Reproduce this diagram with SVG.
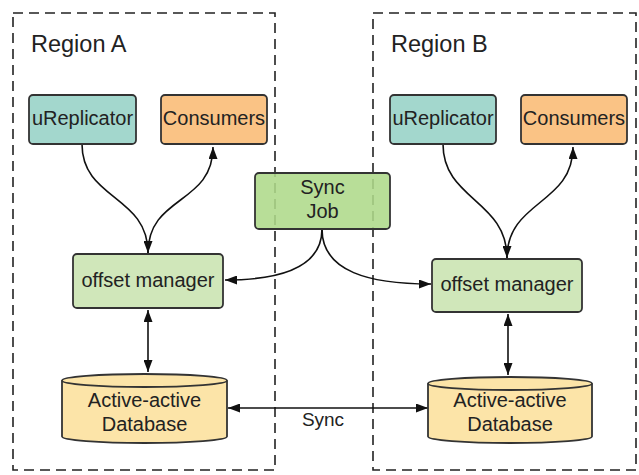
<svg xmlns="http://www.w3.org/2000/svg" width="639" height="475" viewBox="0 0 639 475">
<defs>
<style>
.region{fill:none;stroke:#222;stroke-width:1.6;stroke-dasharray:10,6}
.box{stroke:#333;stroke-width:1.8}
.t{font-family:"Liberation Sans",Arial,sans-serif;fill:#222;text-anchor:middle;font-size:20px}
.rl{font-family:"Liberation Sans",Arial,sans-serif;fill:#222;font-size:23.5px}
.c{fill:none;stroke:#111;stroke-width:1.6}
</style>
<marker id="ah" viewBox="0 0 12 9" refX="12" refY="4.5" markerWidth="12" markerHeight="9" markerUnits="userSpaceOnUse" orient="auto-start-reverse">
<path d="M0,0 L12,4.5 L0,9 Z" fill="#111"/>
</marker>
</defs>
<rect width="639" height="475" fill="#fff"/>
<g id="regionA">
<rect class="region" x="13" y="13" width="262" height="457"/>
<text class="rl" x="31" y="52">Region A</text>
</g>
<g id="regionB">
<rect class="region" x="373" y="13" width="263" height="457"/>
<text class="rl" x="391" y="52">Region B</text>
</g>
<g id="connectors">
<path class="c" d="M82,144 C82,200 148,195 148,253" marker-end="url(#ah)"/>
<path class="c" d="M148,253 C148,195 213,205 213,147" marker-end="url(#ah)"/>
<path class="c" d="M443,144 C443,200 507,200 507,258" marker-end="url(#ah)"/>
<path class="c" d="M507,258 C507,200 573,205 573,147" marker-end="url(#ah)"/>
<path class="c" d="M322,229 C322,268 280,280 225,280" marker-end="url(#ah)"/>
<path class="c" d="M322,229 C322,272 370,284 431,284" marker-end="url(#ah)"/>
<path class="c" d="M148,310 L148,372" marker-start="url(#ah)" marker-end="url(#ah)"/>
<path class="c" d="M508,314 L508,375" marker-start="url(#ah)" marker-end="url(#ah)"/>
<path class="c" d="M228,408 L428,408" marker-start="url(#ah)" marker-end="url(#ah)"/>
<text class="t" x="323" y="426" style="font-size:19px">Sync</text>
</g>
<g id="uReplicatorA">
<rect class="box" x="29" y="95" width="107" height="49" rx="4" fill="#a3d7cd"/>
<text class="t" x="82.5" y="125">uReplicator</text>
</g>
<g id="consumersA">
<rect class="box" x="161" y="95" width="106" height="49" rx="4" fill="#fac385"/>
<text class="t" x="214" y="125">Consumers</text>
</g>
<g id="uReplicatorB">
<rect class="box" x="390" y="95" width="106" height="49" rx="4" fill="#a3d7cd"/>
<text class="t" x="443" y="125">uReplicator</text>
</g>
<g id="consumersB">
<rect class="box" x="521" y="95" width="106" height="49" rx="4" fill="#fac385"/>
<text class="t" x="574" y="125">Consumers</text>
</g>
<g id="syncJob">
<rect class="box" x="255" y="173" width="135" height="56" rx="4" fill="#aed98a" fill-opacity="0.88"/>
<text class="t" x="322.5" y="194">Sync</text>
<text class="t" x="322.5" y="218">Job</text>
</g>
<g id="offsetManagerA">
<rect class="box" x="73" y="254" width="150" height="54" rx="4" fill="#d0e7ba"/>
<text class="t" x="148" y="287">offset manager</text>
</g>
<g id="offsetManagerB">
<rect class="box" x="432" y="259" width="150" height="53" rx="4" fill="#d0e7ba"/>
<text class="t" x="507" y="291">offset manager</text>
</g>
<g id="databaseA">
<path class="box" d="M62,380.5 L62,436.5 A82.5,6.5 0 0 0 227,436.5 L227,380.5 A82.5,6.5 0 0 0 62,380.5 Z" fill="#fce4a8"/>
<path class="box" d="M62,380.5 A82.5,6.5 0 0 0 227,380.5" fill="none"/>
<text class="t" x="144.5" y="407">Active-active</text>
<text class="t" x="144.5" y="431">Database</text>
</g>
<g id="databaseB">
<path class="box" d="M428,383.5 L428,436.5 A82,6.5 0 0 0 592,436.5 L592,383.5 A82,6.5 0 0 0 428,383.5 Z" fill="#fce4a8"/>
<path class="box" d="M428,383.5 A82,6.5 0 0 0 592,383.5" fill="none"/>
<text class="t" x="510" y="407">Active-active</text>
<text class="t" x="510" y="431">Database</text>
</g>
</svg>
